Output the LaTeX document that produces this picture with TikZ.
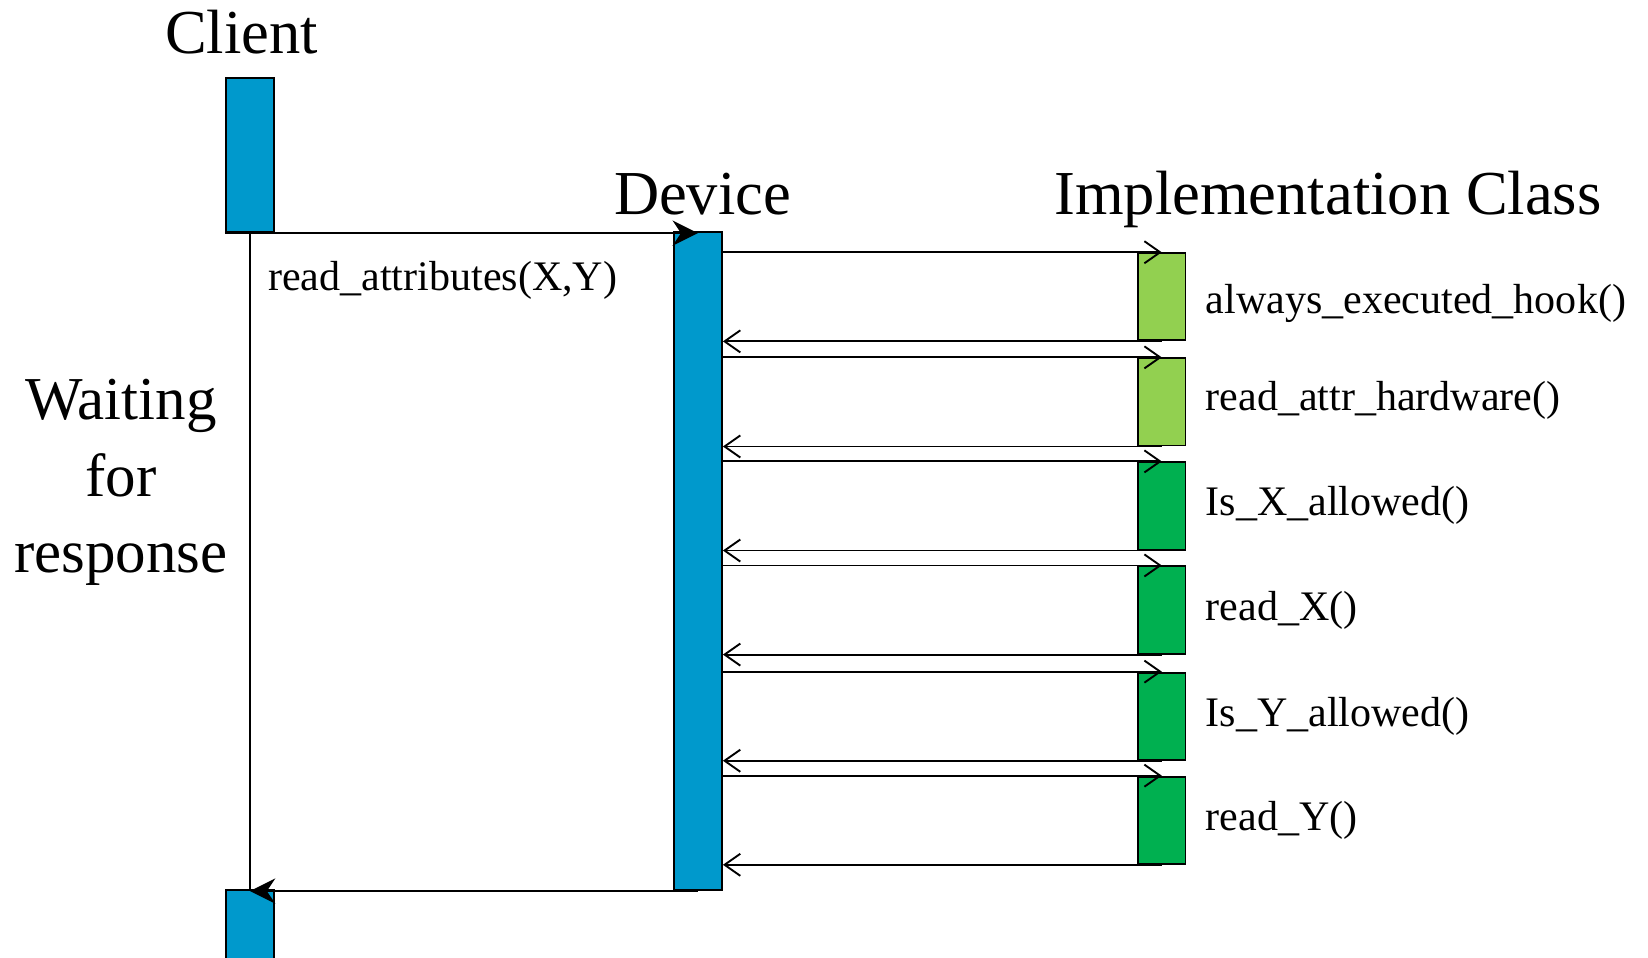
\documentclass[tikz,border=0pt]{standalone}
\usepackage{fontspec}
\setmainfont{Liberation Serif}
\usetikzlibrary{arrows.meta}
\definecolor{lifeblue}{RGB}{0,153,204}
\definecolor{lightgreen}{RGB}{146,208,80}
\definecolor{darkgreen}{RGB}{0,176,80}
\tikzset{
  bar/.style={draw=black, line width=1.8pt, fill=lifeblue, rectangle, inner sep=0pt,
              minimum width=46pt, anchor=north west},
  implbox/.style={draw=black, line width=1.8pt, rectangle, inner sep=0pt,
              minimum width=45pt, minimum height=83pt, anchor=north west},
  hook/.style={implbox, fill=lightgreen},
  work/.style={implbox, fill=darkgreen},
  title/.style={font=\fontsize{59.5}{70}\selectfont, inner sep=0pt, anchor=base west},
  label/.style={font=\fontsize{40}{48}\selectfont, inner sep=0pt, anchor=base west},
  call/.style={line width=1.8pt, -{Stealth[length=24pt,width=24pt,inset=8pt]}},
  msg/.style={line width=1.8pt, -{Straight Barb[length=15pt,width=21pt,line width=1.8pt]}},
  lifeline/.style={line width=1.8pt},
}
\begin{document}
\begin{tikzpicture}[x=1pt,y=-1pt]
\useasboundingbox (0,0) rectangle (1568,911);

% lifeline headers
\node[title] (tclient) at (157,51) {Client};
\node[title] (tdevice) at (584,204) {Device};
\node[title] (timpl) at (1003,204) {Implementation Class};

% activation bars
\node[bar, minimum height=147pt] (client) at (214,73) {};
\node[bar, minimum height=626pt] (device) at (640,220) {};
\node[bar, minimum height=80pt] (clientend) at (214,846) {};

% client lifeline while waiting
\draw[lifeline] (client.south) -- (clientend.north);

% request and reply between client and device
\draw[call] (client.south west) -- (client.south west -| device.north);
\draw[call] (device.south) -- (device.south -| clientend.north);

\node[label] (req) at (255,276) {read\_attributes(X,Y)};

\node[font=\fontsize{58}{73}\selectfont, align=center, inner sep=0pt, anchor=base]
  (wait) at (115,545) {Waiting\\for\\response};

% implementation class methods
\node[hook] (m1) at (1082,240) {};
\node[hook] (m2) at (1082,340) {};
\node[work] (m3) at (1082,439) {};
\node[work] (m4) at (1082,538) {};
\node[work] (m5) at (1082,639) {};
\node[work] (m6) at (1082,738) {};

\foreach \m in {m1,m2,m3,m4,m5,m6}{
  \draw[msg] (device.east |- \m.north) -- (\m.north);
  \draw[msg] (\m.south) -- (device.east |- \m.south);
}

\node[label] (l1) at (1147,298) {always\_executed\_hook()};
\node[label] (l2) at (1147,391) {read\_attr\_hardware()};
\node[label] (l3) at (1147,490) {Is\_X\_allowed()};
\node[label] (l4) at (1147,590) {read\_X()};
\node[label] (l5) at (1147,691) {Is\_Y\_allowed()};
\node[label] (l6) at (1147,790) {read\_Y()};
\end{tikzpicture}
\end{document}
